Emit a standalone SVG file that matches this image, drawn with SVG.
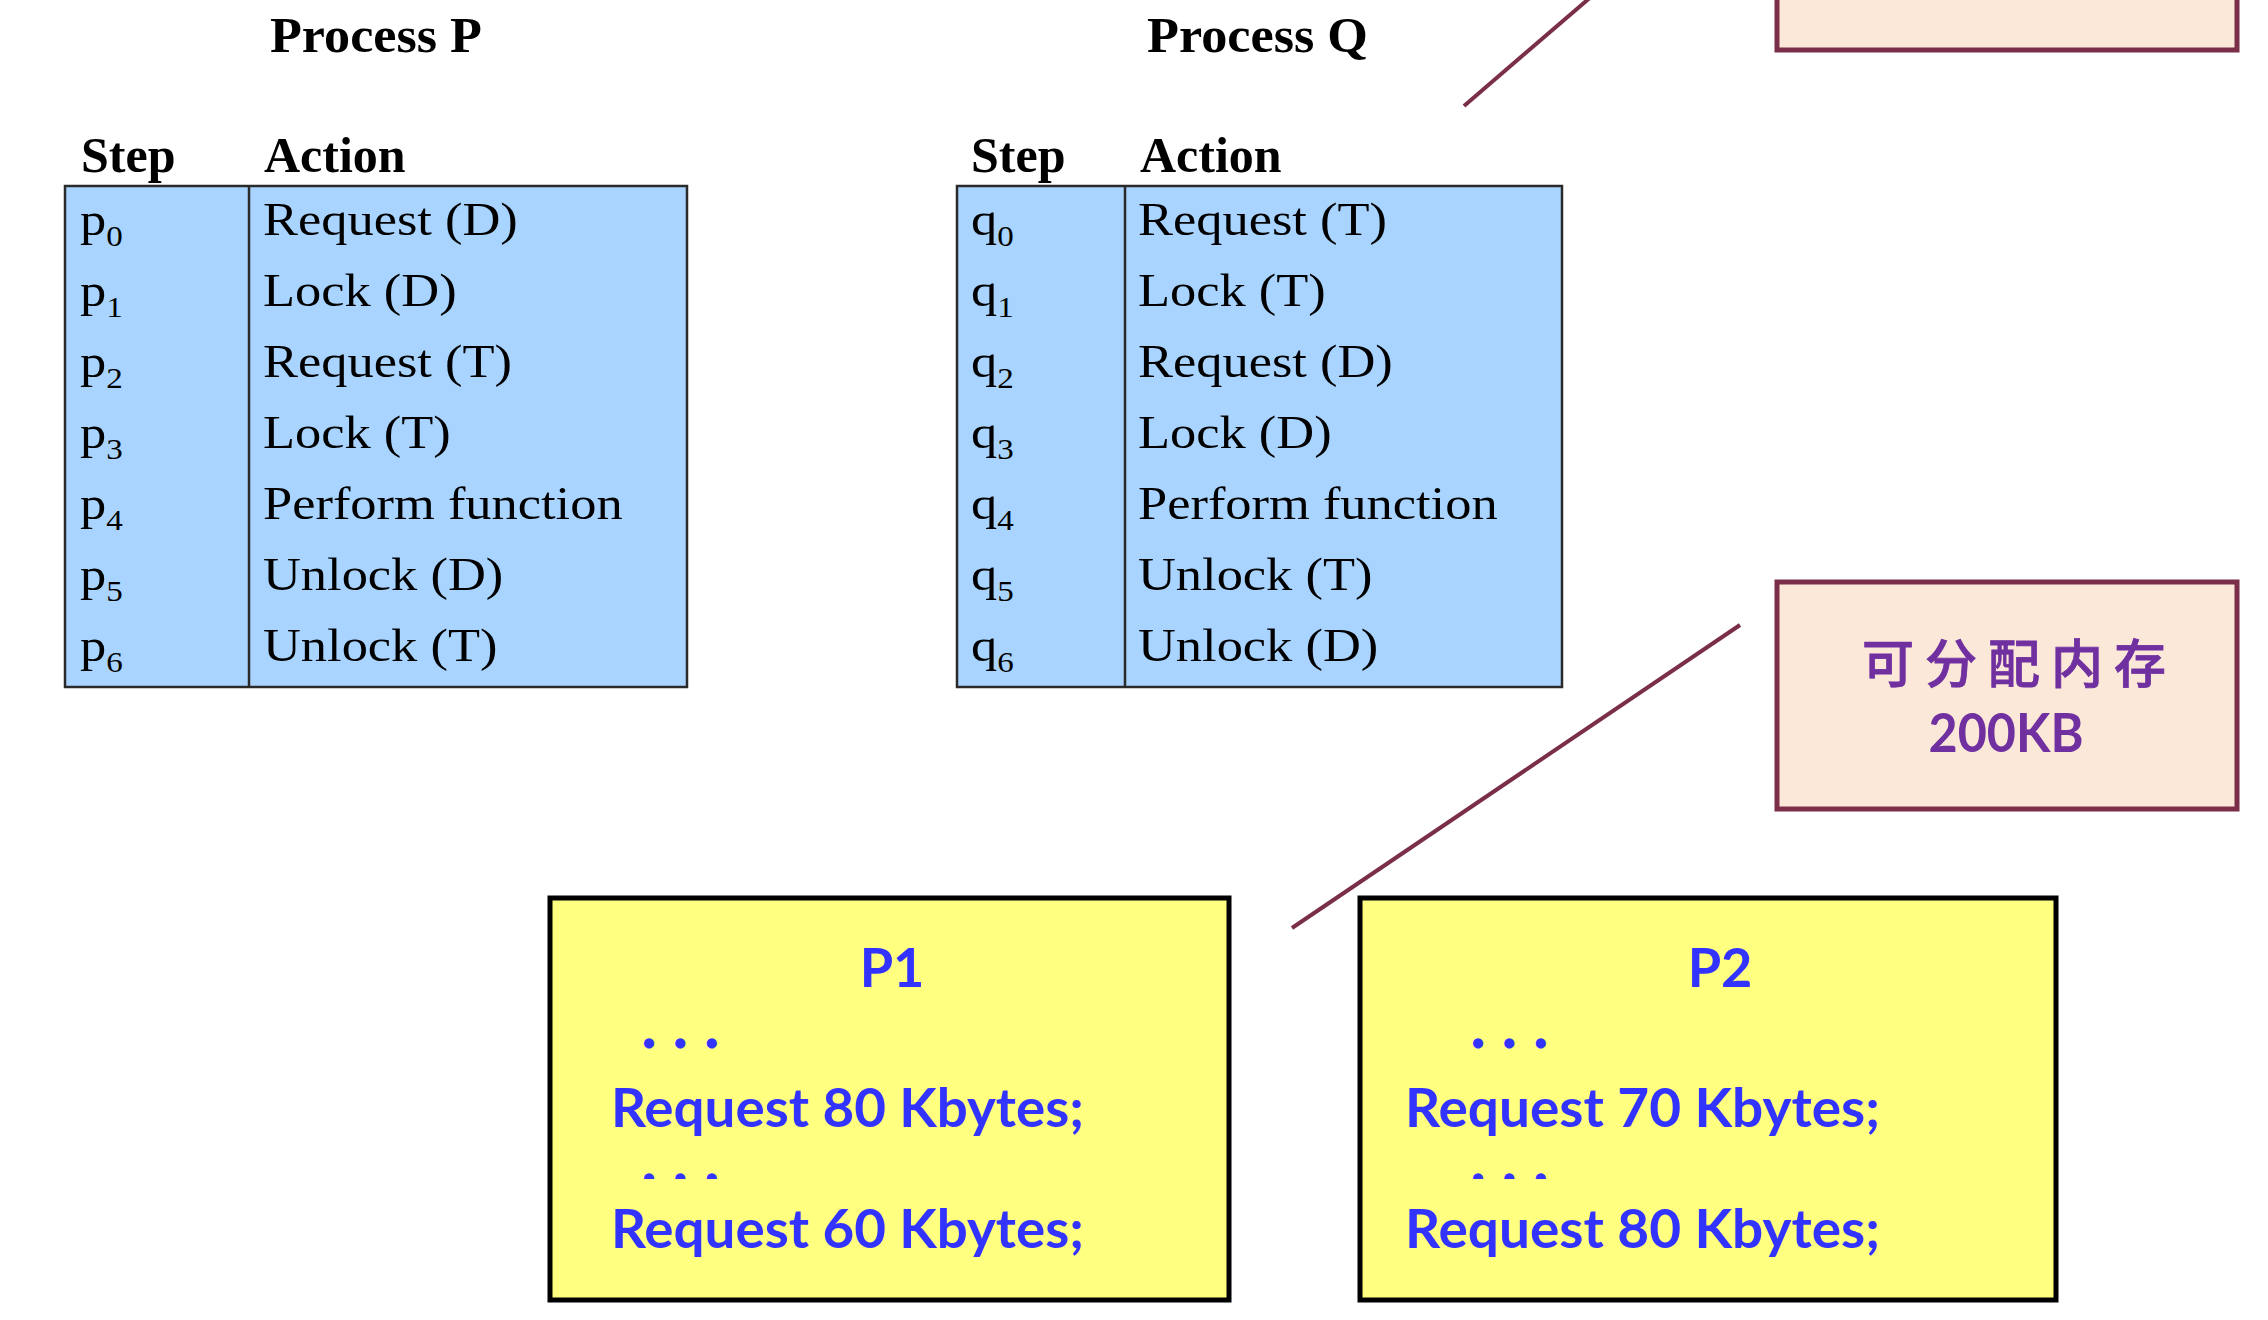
<svg xmlns="http://www.w3.org/2000/svg" width="2268" height="1320" viewBox="0 0 2268 1320">
<style>
.title{font-family:"Liberation Serif","Times New Roman",serif;font-weight:bold;font-size:50px;fill:#000}
.hdr{font-family:"Liberation Serif","Times New Roman",serif;font-weight:bold;font-size:50px;fill:#000}
.cell{font-family:"Liberation Serif","Times New Roman",serif;font-size:46px;fill:#000}
.sub{font-size:29px}
.tbl{fill:#A8D4FF;stroke:#2a2a2a;stroke-width:2.5}
.div{stroke:#2a2a2a;stroke-width:2.5}
.mem{fill:#FBE8D8;stroke:#7A2E4A;stroke-width:5}
.conn{stroke:#7A2E4A;stroke-width:4;fill:none}
.proc{fill:#FFFF80;stroke:#000;stroke-width:5}
.code{font-family:Lato,"Liberation Sans",sans-serif;font-weight:bold;font-size:54px;fill:#3333FF}
.dots{font-family:Lato,"Liberation Sans",sans-serif;font-weight:bold;font-size:34px;fill:#3333FF;stroke:#3333FF;stroke-width:5;stroke-linejoin:round;letter-spacing:7.5px}
.memt{font-family:"Noto Sans CJK SC",sans-serif;font-weight:500;font-size:52px;fill:#7030A0;stroke:#7030A0;stroke-width:0.8;letter-spacing:11px}
.memn{font-family:Lato,"Liberation Sans",sans-serif;font-weight:bold;font-size:54px;fill:#7030A0}
</style>
<defs>
<clipPath id="clipD1"><rect x="600" y="1166" width="200" height="13"/></clipPath>
<clipPath id="clipD2"><rect x="1430" y="1166" width="200" height="13"/></clipPath>
</defs>
<rect width="2268" height="1320" fill="#fff"/>

<g id="connectors">
<line class="conn" x1="1592" y1="-4" x2="1464" y2="106"/>
<line class="conn" x1="1740" y1="625" x2="1292" y2="928"/>
</g>

<g id="processP">
<text class="title" x="270" y="52" textLength="212" lengthAdjust="spacingAndGlyphs">Process P</text>
<text class="hdr" x="81" y="172">Step</text>
<text class="hdr" x="264" y="172">Action</text>
<rect class="tbl" x="65" y="186" width="622" height="501"/>
<line class="div" x1="249" y1="186" x2="249" y2="687"/>
<g class="cell">
<text transform="translate(80,235) scale(1.14,1)">p<tspan class="sub" dy="11">0</tspan></text>
<text transform="translate(80,306) scale(1.14,1)">p<tspan class="sub" dy="11">1</tspan></text>
<text transform="translate(80,377) scale(1.14,1)">p<tspan class="sub" dy="11">2</tspan></text>
<text transform="translate(80,448) scale(1.14,1)">p<tspan class="sub" dy="11">3</tspan></text>
<text transform="translate(80,519) scale(1.14,1)">p<tspan class="sub" dy="11">4</tspan></text>
<text transform="translate(80,590) scale(1.14,1)">p<tspan class="sub" dy="11">5</tspan></text>
<text transform="translate(80,661) scale(1.14,1)">p<tspan class="sub" dy="11">6</tspan></text>
<text transform="translate(263,235) scale(1.14,1)">Request (D)</text>
<text transform="translate(263,306) scale(1.14,1)">Lock (D)</text>
<text transform="translate(263,377) scale(1.14,1)">Request (T)</text>
<text transform="translate(263,448) scale(1.14,1)">Lock (T)</text>
<text transform="translate(263,519) scale(1.14,1)">Perform function</text>
<text transform="translate(263,590) scale(1.14,1)">Unlock (D)</text>
<text transform="translate(263,661) scale(1.14,1)">Unlock (T)</text>
</g>
</g>

<g id="processQ">
<text class="title" x="1147" y="52" textLength="221" lengthAdjust="spacingAndGlyphs">Process Q</text>
<text class="hdr" x="971" y="172">Step</text>
<text class="hdr" x="1140" y="172">Action</text>
<rect class="tbl" x="957" y="186" width="605" height="501"/>
<line class="div" x1="1125" y1="186" x2="1125" y2="687"/>
<g class="cell">
<text transform="translate(971,235) scale(1.14,1)">q<tspan class="sub" dy="11">0</tspan></text>
<text transform="translate(971,306) scale(1.14,1)">q<tspan class="sub" dy="11">1</tspan></text>
<text transform="translate(971,377) scale(1.14,1)">q<tspan class="sub" dy="11">2</tspan></text>
<text transform="translate(971,448) scale(1.14,1)">q<tspan class="sub" dy="11">3</tspan></text>
<text transform="translate(971,519) scale(1.14,1)">q<tspan class="sub" dy="11">4</tspan></text>
<text transform="translate(971,590) scale(1.14,1)">q<tspan class="sub" dy="11">5</tspan></text>
<text transform="translate(971,661) scale(1.14,1)">q<tspan class="sub" dy="11">6</tspan></text>
<text transform="translate(1138,235) scale(1.14,1)">Request (T)</text>
<text transform="translate(1138,306) scale(1.14,1)">Lock (T)</text>
<text transform="translate(1138,377) scale(1.14,1)">Request (D)</text>
<text transform="translate(1138,448) scale(1.14,1)">Lock (D)</text>
<text transform="translate(1138,519) scale(1.14,1)">Perform function</text>
<text transform="translate(1138,590) scale(1.14,1)">Unlock (T)</text>
<text transform="translate(1138,661) scale(1.14,1)">Unlock (D)</text>
</g>
</g>

<g id="memTop">
<rect class="mem" x="1777" y="-20" width="460" height="70"/>
</g>

<g id="memBox">
<rect class="mem" x="1777" y="582" width="460" height="227"/>
<text class="memt" x="1862" y="683">可分配内存</text>
<text class="memn" x="2006" y="752" text-anchor="middle" textLength="155" lengthAdjust="spacingAndGlyphs">200KB</text>
</g>

<g id="P1">
<rect class="proc" x="550" y="898" width="679" height="402"/>
<text class="code" x="892" y="987" text-anchor="middle">P1</text>
<text class="dots" x="645" y="1046">. . .</text>
<text class="code" x="611" y="1127" textLength="473" lengthAdjust="spacingAndGlyphs">Request 80 Kbytes;</text>
<text class="dots" x="645" y="1181" clip-path="url(#clipD1)">. . .</text>
<text class="code" x="611" y="1248" textLength="473" lengthAdjust="spacingAndGlyphs">Request 60 Kbytes;</text>
</g>

<g id="P2">
<rect class="proc" x="1360" y="898" width="696" height="402"/>
<text class="code" x="1720" y="987" text-anchor="middle">P2</text>
<text class="dots" x="1474" y="1046">. . .</text>
<text class="code" x="1405" y="1127" textLength="475" lengthAdjust="spacingAndGlyphs">Request 70 Kbytes;</text>
<text class="dots" x="1474" y="1181" clip-path="url(#clipD2)">. . .</text>
<text class="code" x="1405" y="1248" textLength="475" lengthAdjust="spacingAndGlyphs">Request 80 Kbytes;</text>
</g>
</svg>
